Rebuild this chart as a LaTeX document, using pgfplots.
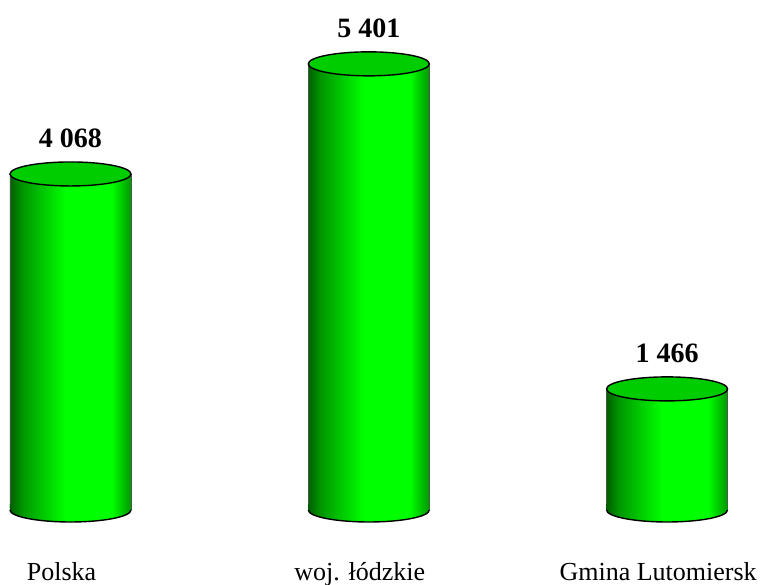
\documentclass[border=0pt]{standalone}
\usepackage{fontspec}
\setmainfont{Liberation Serif}
\usepackage{pgfplots}
\pgfplotsset{compat=1.18}

\definecolor{cylA}{RGB}{0,95,0}
\definecolor{cylB}{RGB}{0,150,0}
\definecolor{cylC}{RGB}{0,255,0}
\definecolor{cylD}{RGB}{0,150,0}
\definecolor{cyltopc}{RGB}{0,205,0}
\definecolor{cyledge}{RGB}{70,90,70}

% side of the cylinder: dark left, bright centre-right, darker right edge
\pgfdeclarehorizontalshading{cyl}{100bp}{color(0bp)=(cylA); color(25bp)=(cylA); color(30bp)=(cylB); color(48bp)=(cylC); color(67bp)=(cylC); color(75bp)=(cylD); color(100bp)=(cylD)}

% marks use explicit units: inside an axis a bare (0,0) means axis cs;
% draw=none because the mark scope would otherwise stroke the shaded patch
\pgfdeclareplotmark{cylbottom}{%
  \path[shading=cyl, draw=none] (-30.25pt,3pt) -- (-30.25pt,0pt) arc[start angle=180,end angle=360,x radius=30.25pt,y radius=6pt] -- (30.25pt,3pt) -- cycle;
  \draw[black, line width=0.7pt] (-30.25pt,0pt) arc[start angle=180,end angle=360,x radius=30.25pt,y radius=6pt];
}
\pgfdeclareplotmark{cyltop}{%
  \draw[black, line width=0.7pt, fill=cyltopc] (0pt,0pt) ellipse[x radius=30.25pt, y radius=6pt];
}

\pgfplotsset{
  cylside/.style={ybar, bar width=60.5pt, bar shift=0pt, shading=cyl, draw=none},
  cylline/.style={ycomb, no marks, draw=cyledge, line width=0.4pt},
}

\begin{document}
\begin{tikzpicture}
\begin{axis}[
    name=ax, at={(0pt,0pt)}, anchor=south west,
    scale only axis, width=380pt, height=292pt,
    set layers,
    xmin=-0.2363, xmax=2.3115,
    ymin=-896, ymax=6174,
    axis line style={draw=none},
    ytick=\empty,
    xtick={0,1,2},
    xticklabels={Polska, woj. łódzkie, Gmina Lutomiersk},
    major tick length=0pt,
    xticklabel style={anchor=base, yshift=2pt, xshift=-4.5pt, font=\fontsize{13}{15}\selectfont},
    clip=false,
]
% bottom halves on the background layer, so the sides cover their upper strip
\addplot[only marks, mark=cylbottom, mark layer=axis background]
    coordinates {(0,0) (1,0) (2,0)};
% one plot per bar so that each side gets its own shading
\addplot[cylside] coordinates {(0,4068)};
\addplot[cylside] coordinates {(1,5401)};
\addplot[cylside] coordinates {(2,1466)};
% outlines of the sides
\addplot[cylline, xshift=-30.25pt] coordinates {(0,4068) (1,5401) (2,1466)};
\addplot[cylline, xshift=30.25pt] coordinates {(0,4068) (1,5401) (2,1466)};
% tops and values
\addplot[only marks, mark=cyltop,
    nodes near coords,
    /pgf/number format/.cd, fixed, precision=0, 1000 sep={\ }, assume math mode=true,
    /pgfplots/.cd,
    every node near coord/.append style={anchor=south, inner sep=0pt, yshift=13pt, text=black,
        font=\bfseries\fontsize{14}{16}\selectfont}]
    coordinates {(0,4068) (1,5401) (2,1466)};
\end{axis}
\pgfresetboundingbox
\path[use as bounding box] (ax.south west) rectangle (ax.north east);
\end{tikzpicture}
\end{document}
